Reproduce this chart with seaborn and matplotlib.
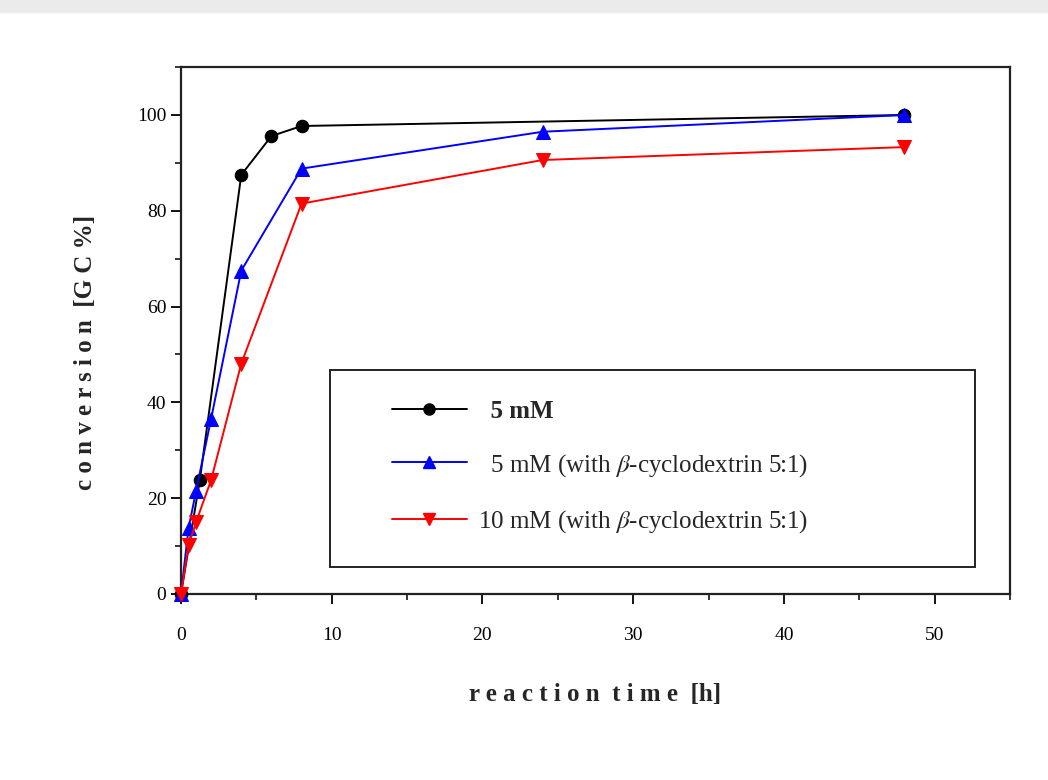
import numpy as np
import pandas as pd
import matplotlib.pyplot as plt
import seaborn as sns
from matplotlib.patches import Rectangle
from matplotlib.lines import Line2D
from matplotlib.ticker import MultipleLocator

# reaction time [h] and conversion [GC%] for each run
time_5mM = [0, 1.25, 4, 6, 8, 48]
conv_5mM = [0, 23.8, 87.5, 95.6, 97.7, 100]

time_5mM_cd = [0, 0.5, 1, 2, 4, 8, 24, 48]
conv_5mM_cd = [0, 13.7, 21.5, 36.6, 67.5, 88.8, 96.5, 100]

time_10mM_cd = [0, 0.5, 1, 2, 4, 8, 24, 48]
conv_10mM_cd = [0, 10.2, 15.0, 23.8, 48.1, 81.5, 90.6, 93.3]

labels = ['  5 mM',
          r'  5 mM (with $\beta$-cyclodextrin 5:1)',
          r'10 mM (with $\beta$-cyclodextrin 5:1)']

sns.set_style('ticks')
plt.rcParams['font.family'] = ['Liberation Serif', 'DejaVu Serif']
plt.rcParams['mathtext.fontset'] = 'stix'

fig = plt.figure(figsize=(10.48, 7.8), dpi=100)
ax = fig.add_axes([0.1727, 0.2385, 0.791, 0.6755])

# faint textured band along the top of the original image
fig.patches.append(Rectangle((0, 0.985), 1, 0.015, transform=fig.transFigure,
                             color='#ebebeb', zorder=0))

series = [
    (time_5mM, conv_5mM, 'black', 'o', 9),
    (time_5mM_cd, conv_5mM_cd, 'blue', '^', 10),
    (time_10mM_cd, conv_10mM_cd, 'red', 'v', 10),
]
for (t, c, col, mk, ms), lab in zip(series, labels):
    df = pd.DataFrame({'t': t, 'c': c})
    sns.lineplot(data=df, x='t', y='c', ax=ax, color=col, marker=mk,
                 markersize=ms, markeredgecolor=col, linewidth=1.4,
                 clip_on=False, zorder=3)

ax.set_xlim(0, 55)
ax.set_ylim(0, 110)
ax.xaxis.set_major_locator(MultipleLocator(10))
ax.xaxis.set_minor_locator(MultipleLocator(5))
ax.yaxis.set_major_locator(MultipleLocator(20))
ax.yaxis.set_minor_locator(MultipleLocator(10))
ax.tick_params(which='major', direction='out', length=7, width=1.3,
               labelsize=14, colors='black')
ax.tick_params(which='minor', direction='out', length=4, width=1.3)
ax.tick_params(axis='x', pad=17)
for s in ax.spines.values():
    s.set_linewidth(1.6)
    s.set_color('#222222')
    s.set_visible(True)

ax.set_xlabel('r e a c t i o n  t i m e  [h]', fontsize=18,
              fontweight='bold', labelpad=28)
ax.set_ylabel('c o n v e r s i o n  [G C %]', fontsize=18,
              fontweight='bold')
ax.yaxis.set_label_coords(-0.101, 0.459)

# legend frame drawn separately so the entries can sit inside with wide margins
ax.add_patch(Rectangle((0.180, 0.051), 0.778, 0.374, transform=ax.transAxes,
                       fill=True, facecolor='white', edgecolor='#222222',
                       linewidth=1.4, zorder=4))

handles = [
    Line2D([], [], color='black', marker='o', markersize=8, linewidth=1.4),
    Line2D([], [], color='blue', marker='^', markersize=9, linewidth=1.4),
    Line2D([], [], color='red', marker='v', markersize=9, linewidth=1.4),
]
leg = ax.legend(handles, labels, loc='upper left',
                bbox_to_anchor=(0.2545, 0.369), frameon=False,
                fontsize=18, handlelength=3.0, borderpad=0,
                labelspacing=1.17, handletextpad=0.45, borderaxespad=0)
leg.set_zorder(5)
leg.get_texts()[0].set_fontweight('bold')

fig.savefig('out.png', dpi=100)
